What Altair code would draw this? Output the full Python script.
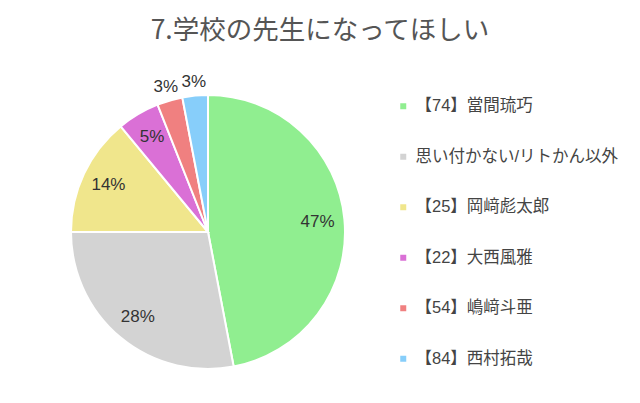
import altair as alt
import pandas as pd

categories = ["【74】當間琉巧", "思い付かない/リトかん以外", "【25】岡﨑彪太郎",
              "【22】大西風雅", "【54】嶋﨑斗亜", "【84】西村拓哉"]
values = [47, 28, 14, 5, 3, 3]
colors = ["#90EE90", "#D3D3D3", "#F0E68C", "#DA70D6", "#F08080", "#87CEFA"]

df = pd.DataFrame({"name": categories, "value": values, "idx": list(range(len(values)))})

CX, CY, R = 200, 164, 137

base = alt.Chart(df).encode(
    theta=alt.Theta("value:Q", stack=True),
    order=alt.Order("idx:Q"),
    x=alt.value(CX),
    y=alt.value(CY),
)

pie = base.mark_arc(outerRadius=R, stroke="white", strokeWidth=2).encode(
    color=alt.Color(
        "name:N",
        scale=alt.Scale(domain=categories, range=colors),
        sort=categories,
        legend=alt.Legend(
            title=None,
            orient="none",
            legendX=387,
            legendY=30,
            padding=0,
            symbolType="square",
            symbolSize=36,
            symbolStrokeWidth=0,
            labelFont="Liberation Sans, Noto Sans CJK JP",
            labelFontSize=16.5,
            labelColor="#444444",
            labelOffset=4,
            rowPadding=33.5,
            labelLimit=300,
        ),
    )
)

inner = base.transform_calculate(
    lab="datum.value >= 5 ? datum.value + '%' : ''"
).mark_text(radius=110, fontSize=17, font="Liberation Sans", fill="#333333").encode(text="lab:N")

outer = base.transform_calculate(
    lab="datum.value < 5 ? datum.value + '%' : ''"
).mark_text(radius=151, fontSize=17, font="Liberation Sans", fill="#333333").encode(text="lab:N")

chart = alt.layer(pie, inner, outer).properties(
    width=624,
    height=327,
    autosize=alt.AutoSizeParams(type="none"),
    padding={"left": 0, "top": 60, "right": 0, "bottom": 0},
    title=alt.TitleParams(
        "7.学校の先生になってほしい",
        font="Noto Sans CJK JP",
        fontSize=26.5,
        fontWeight="normal",
        color="#555555",
        anchor="middle",
        frame="group",
        offset=24,
    ),
).configure_view(stroke=None)

chart.save("out.html", embed_options={"renderer": "svg", "actions": False})
